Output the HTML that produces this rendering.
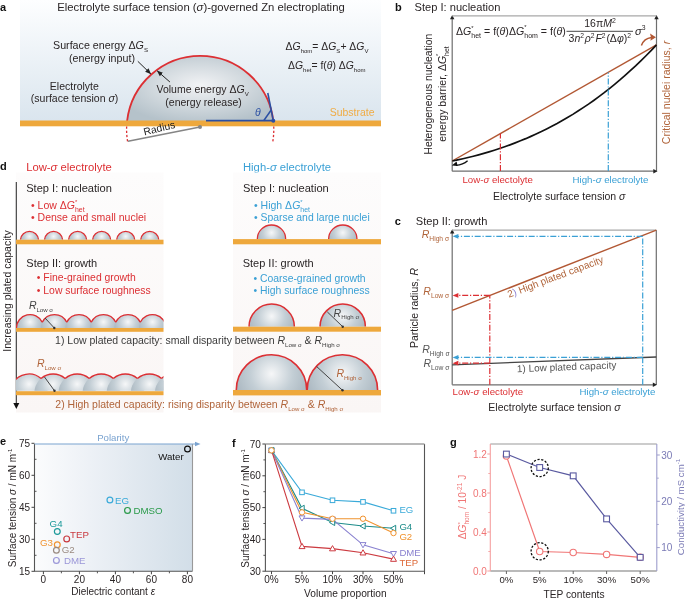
<!DOCTYPE html><html><head><meta charset="utf-8"><style>
html,body{margin:0;padding:0;background:#fff;width:685px;height:599px;overflow:hidden}
svg{display:block;will-change:transform}
text{font-family:"Liberation Sans",sans-serif}
</style></head><body>
<svg width="685" height="599" viewBox="0 0 685 599">
<defs>
<linearGradient id="ga" x1="0" y1="0" x2="0" y2="1"><stop offset="0" stop-color="#fdfeff"/><stop offset="1" stop-color="#dae5ee"/></linearGradient>
<radialGradient id="drop" cx="0.5" cy="0.45" r="0.6"><stop offset="0" stop-color="#f2f3f5"/><stop offset="1" stop-color="#b5c2ca"/></radialGradient>
<radialGradient id="nuc" cx="0.5" cy="0.27" r="0.55"><stop offset="0" stop-color="#f6f7f8"/><stop offset="0.55" stop-color="#c3ced5"/><stop offset="1" stop-color="#aab7c0"/></radialGradient>
<linearGradient id="ge" x1="0" y1="0" x2="1" y2="0"><stop offset="0" stop-color="#fbfcfd"/><stop offset="0.35" stop-color="#edf1f6"/><stop offset="1" stop-color="#d2dee8"/></linearGradient>
<linearGradient id="gd" x1="0" y1="0" x2="0" y2="1"><stop offset="0" stop-color="#fdfcfc"/><stop offset="1" stop-color="#faf6f5"/></linearGradient>
<marker id="ah" viewBox="0 0 10 10" refX="9" refY="5" markerWidth="6" markerHeight="6" orient="auto-start-reverse"><path d="M0,1 L10,5 L0,9 z" fill="#222"/></marker>
</defs>

<text x="0" y="10.5" font-size="11" font-weight="bold" fill="#111">a</text>
<rect x="20" y="0" width="361" height="121" fill="url(#ga)"/>
<text x="57.2" y="10.5" font-size="11.3" fill="#2a2526" text-anchor="start" ><tspan >Electrolyte surface tension (</tspan><tspan font-style="italic" >σ</tspan><tspan >)-governed Zn electroplating</tspan></text>
<path d="M127.0924764473587,121 A73.6,73.6 0 0 1 273.30752355264127,121 Z" fill="url(#drop)"/>
<path d="M127.0924764473587,121 A73.6,73.6 0 0 1 273.30752355264127,121" fill="none" stroke="#dc2f33" stroke-width="1.8"/>
<rect x="20" y="120.5" width="361" height="5.8" fill="#eea83c"/>
<path d="M126.66,126.5 A73.6,73.6 0 0 0 127.67,142" fill="none" stroke="#dc2f33" stroke-width="1.3" stroke-dasharray="2.2,2"/>
<path d="M273.74,126.5 A73.6,73.6 0 0 1 272.73,142" fill="none" stroke="#dc2f33" stroke-width="1.3" stroke-dasharray="2.2,2"/>
<path d="M128,141.3 L200,127" stroke="#858585" stroke-width="1.6" fill="none" />
<circle cx="200" cy="127" r="2" fill="#858585"/>
<text x="0" y="0" font-size="10.3" fill="#222" text-anchor="start" transform="translate(144.6,135.5) rotate(-14)" ><tspan >Radius</tspan></text>
<path d="M206,120.7 L273.3,120.7" stroke="#2a4fa3" stroke-width="1.8" fill="none" />
<path d="M273.3,120.7 L267.8,93" stroke="#2a4fa3" stroke-width="1.6" fill="none" />
<path d="M263.7,120.7 L271,110.2" stroke="#2a4fa3" stroke-width="1.5" fill="none" />
<circle cx="273.3" cy="120.7" r="2" fill="#2a4fa3"/>
<text x="255" y="116.3" font-size="10.5" fill="#2a4fa3" text-anchor="start" ><tspan font-style="italic" >θ</tspan></text>
<text x="53" y="49.3" font-size="10.7" fill="#2a2526" text-anchor="start" ><tspan >Surface energy </tspan><tspan >Δ</tspan><tspan font-style="italic" >G</tspan><tspan dy="2.67" font-size="6.21" >S</tspan></text>
<text x="69" y="61.7" font-size="10.7" fill="#2a2526" text-anchor="start" ><tspan >(energy input)</tspan></text>
<text x="49.8" y="89.6" font-size="10.5" fill="#2a2526" text-anchor="start" ><tspan >Electrolyte</tspan></text>
<text x="30.8" y="101.8" font-size="10.5" fill="#2a2526" text-anchor="start" ><tspan >(surface tension </tspan><tspan font-style="italic" >σ</tspan><tspan >)</tspan></text>
<text x="156.5" y="93.3" font-size="10.5" fill="#2a2526" text-anchor="start" ><tspan >Volume energy </tspan><tspan >Δ</tspan><tspan font-style="italic" >G</tspan><tspan dy="2.62" font-size="6.09" >V</tspan></text>
<text x="165.3" y="105.7" font-size="10.5" fill="#2a2526" text-anchor="start" ><tspan >(energy release)</tspan></text>
<path d="M137.8,61.3 L150.7,73.8" stroke="#222" stroke-width="1" marker-end="url(#ah)"/>
<path d="M169.9,82 L157.3,71" stroke="#222" stroke-width="1" marker-end="url(#ah)"/>
<text x="285.6" y="50.4" font-size="10.4" fill="#2a2526" text-anchor="start" ><tspan >Δ</tspan><tspan font-style="italic" >G</tspan><tspan dy="2.60" font-size="6.03" >hom</tspan><tspan dy="-2.60" >= </tspan><tspan >Δ</tspan><tspan font-style="italic" >G</tspan><tspan dy="2.60" font-size="6.03" >S</tspan><tspan dy="-2.60" >+ </tspan><tspan >Δ</tspan><tspan font-style="italic" >G</tspan><tspan dy="2.60" font-size="6.03" >V</tspan></text>
<text x="288" y="69.4" font-size="10.4" fill="#2a2526" text-anchor="start" ><tspan >Δ</tspan><tspan font-style="italic" >G</tspan><tspan dy="2.60" font-size="6.03" >het</tspan><tspan dy="-2.60" >= f(</tspan><tspan font-style="italic" >θ</tspan><tspan >) </tspan><tspan >Δ</tspan><tspan font-style="italic" >G</tspan><tspan dy="2.60" font-size="6.03" >hom</tspan></text>
<text x="329.8" y="116.4" font-size="10.45" fill="#f0ac45" text-anchor="start" ><tspan >Substrate</tspan></text>
<text x="395" y="10.5" font-size="11" font-weight="bold" fill="#111">b</text>
<text x="414.6" y="10.6" font-size="11.1" fill="#2a2526" text-anchor="start" ><tspan >Step I: nucleation</tspan></text>
<path d="M452.2,171.2 L452.2,18" stroke="#6e6e6e" stroke-width="1.2" fill="none" />
<path d="M452.2,15 l-2.2,4.2 h4.4 z" fill="#222"/>
<path d="M656.5,171.2 L656.5,18" stroke="#6e6e6e" stroke-width="1.2" fill="none" />
<path d="M656.5,15 l-2.2,4.2 h4.4 z" fill="#222"/>
<path d="M452.2,171.2 L654,171.2" stroke="#6e6e6e" stroke-width="1.2" fill="none" />
<path d="M657.5,171.2 l-4.2,-2.2 v4.4 z" fill="#222"/>
<path d="M452.2,15.8 L656.5,15.8" stroke="#a8a8a8" stroke-width="1.3" fill="none" />
<path d="M452.2,161 L656.5,44.9" stroke="#b25834" stroke-width="1.4" fill="none" />
<path d="M452.4,161.02 L457.6,159.91 L462.9,158.74 L468.1,157.51 L473.3,156.20 L478.6,154.82 L483.8,153.36 L489.0,151.83 L494.3,150.21 L499.5,148.51 L504.7,146.73 L510.0,144.85 L515.2,142.88 L520.4,140.82 L525.7,138.66 L530.9,136.39 L536.1,134.03 L541.4,131.56 L546.6,128.98 L551.8,126.29 L557.1,123.49 L562.3,120.56 L567.5,117.52 L572.8,114.36 L578.0,111.07 L583.2,107.66 L588.5,104.12 L593.7,100.44 L598.9,96.62 L604.2,92.67 L609.4,88.58 L614.6,84.34 L619.9,79.96 L625.1,75.43 L630.3,70.74 L635.6,65.90 L640.8,60.91 L646.0,55.75 L651.3,50.43 L656.5,44.95" stroke="#111" stroke-width="1.7" fill="none" />
<path d="M500.4,171 L500.4,133.5" stroke="#dc2f33" stroke-width="1.2" fill="none" stroke-dasharray="6,1.8,1.2,1.8"/>
<path d="M608.3,171 L608.3,72.6" stroke="#3aa0d5" stroke-width="1.2" fill="none" stroke-dasharray="6,1.8,1.2,1.8"/>
<path d="M467.6,160.7 Q463,164.8 456,165.3" stroke="#111" stroke-width="1.3" fill="none" />
<path d="M451.8,165.6 L456.6,161.6 L457.6,165.9 z" fill="#111"/>
<path d="M641.4,45.5 Q644,38.5 651.5,37.6" stroke="#b25834" stroke-width="1.5" fill="none" />
<path d="M656,37.2 l-6,-3.6 l1,3.8 l-0.6,3.4 z" fill="#b25834"/>
<text x="462.4" y="183.4" font-size="9.7" fill="#dc2f33" text-anchor="start" ><tspan >Low-</tspan><tspan font-style="italic" >σ</tspan><tspan > electolyte</tspan></text>
<text x="572.5" y="183.4" font-size="9.7" fill="#3aa0d5" text-anchor="start" ><tspan >High-</tspan><tspan font-style="italic" >σ</tspan><tspan > electrolyte</tspan></text>
<text x="493" y="199.7" font-size="10.5" fill="#2a2526" text-anchor="start" ><tspan >Electrolyte surface tension </tspan><tspan font-style="italic" >σ</tspan></text>
<text x="456" y="34.8" font-size="10.6" fill="#2a2526" text-anchor="start" ><tspan >Δ</tspan><tspan font-style="italic" >G</tspan><tspan dy="-5.30" font-size="5.83" >*</tspan><tspan dy="8.48" font-size="7.00" dx="-2.27">het</tspan><tspan dy="-3.18" > = f(</tspan><tspan font-style="italic" >θ</tspan><tspan >)</tspan><tspan >Δ</tspan><tspan font-style="italic" >G</tspan><tspan dy="-5.30" font-size="5.83" >*</tspan><tspan dy="8.48" font-size="7.00" dx="-2.27">hom</tspan><tspan dy="-3.18" > = f(</tspan><tspan font-style="italic" >θ</tspan><tspan >)</tspan></text>
<text x="600" y="27.4" font-size="10.5" fill="#2a2526" text-anchor="middle" ><tspan >16π</tspan><tspan font-style="italic" >M</tspan><tspan dy="-4.41" font-size="6.93" >2</tspan></text>
<path d="M566.5,31.3 L633,31.3" stroke="#333" stroke-width="0.9" fill="none" />
<text x="599.8" y="42" font-size="10.5" fill="#2a2526" text-anchor="middle" ><tspan >3</tspan><tspan font-style="italic" >n</tspan><tspan dy="-4.20" font-size="6.72" >2</tspan><tspan dy="4.20" font-style="italic" dx="0.8">ρ</tspan><tspan dy="-4.20" font-size="6.72" >2</tspan><tspan dy="4.20" font-style="italic" dx="0.8">F</tspan><tspan dy="-4.20" font-size="6.72" >2</tspan><tspan dy="4.20" dx="0.8">(Δ</tspan><tspan font-style="italic" >φ</tspan><tspan >)</tspan><tspan dy="-4.20" font-size="6.72" >2</tspan></text>
<text x="635" y="35" font-size="11" fill="#2a2526" text-anchor="start" ><tspan font-style="italic" >σ</tspan><tspan dy="-4.95" font-size="6.82" >3</tspan></text>
<text x="0" y="0" font-size="10.35" fill="#2a2526" text-anchor="middle" transform="translate(432.3,94.2) rotate(-90)" ><tspan >Heterogeneous nucleation</tspan></text>
<text x="0" y="0" font-size="10.5" fill="#2a2526" text-anchor="middle" transform="translate(445.5,94) rotate(-90)" ><tspan >energy barrier, </tspan><tspan >Δ</tspan><tspan font-style="italic" >G</tspan><tspan dy="-5.25" font-size="5.78" >*</tspan><tspan dy="8.40" font-size="6.93" dx="-2.25">het</tspan></text>
<text x="0" y="0" font-size="10.5" fill="#b0643a" text-anchor="middle" transform="translate(670,92.5) rotate(-90)" ><tspan >Critical nuclei radius, </tspan><tspan font-style="italic" >r</tspan></text>
<text x="0" y="170.4" font-size="11" font-weight="bold" fill="#111">d</text>
<text x="26.2" y="171" font-size="11.25" fill="#dc2f33" text-anchor="start" ><tspan >Low-</tspan><tspan font-style="italic" >σ</tspan><tspan > electrolyte</tspan></text>
<text x="243" y="170.8" font-size="11.25" fill="#3aa0d5" text-anchor="start" ><tspan >High-</tspan><tspan font-style="italic" >σ</tspan><tspan > electrolyte</tspan></text>
<rect x="16" y="172.5" width="147.5" height="240" fill="url(#gd)"/>
<rect x="233" y="172.5" width="148" height="240" fill="url(#gd)"/>
<path d="M16.3,182 L16.3,404" stroke="#333" stroke-width="1.1" fill="none" />
<path d="M16.3,409 l-3,-6 h6 z" fill="#111"/>
<text x="0" y="0" font-size="10.5" fill="#2a2526" text-anchor="middle" transform="translate(11,291) rotate(-90)" ><tspan >Increasing plated capacity</tspan></text>
<text x="26.2" y="192.1" font-size="11.1" fill="#2a2526" text-anchor="start" ><tspan >Step I: nucleation</tspan></text>
<text x="31" y="208.9" font-size="10.5" fill="#dc2f33" text-anchor="start" ><tspan >• Low </tspan><tspan >Δ</tspan><tspan font-style="italic" >G</tspan><tspan dy="-5.25" font-size="5.78" >*</tspan><tspan dy="8.40" font-size="6.93" dx="-2.25">het</tspan></text>
<text x="31" y="220.7" font-size="10.5" fill="#dc2f33" text-anchor="start" ><tspan >• Dense and small nuclei</tspan></text>
<clipPath id="c1"><rect x="16" y="0" width="147.5" height="239.7"/></clipPath>
<g clip-path="url(#c1)"><circle cx="29.5" cy="240.6" r="9.1" fill="url(#nuc)"/><circle cx="53.55" cy="240.6" r="9.1" fill="url(#nuc)"/><circle cx="77.6" cy="240.6" r="9.1" fill="url(#nuc)"/><circle cx="101.65" cy="240.6" r="9.1" fill="url(#nuc)"/><circle cx="125.7" cy="240.6" r="9.1" fill="url(#nuc)"/><circle cx="149.75" cy="240.6" r="9.1" fill="url(#nuc)"/></g>
<g clip-path="url(#c1)"><path d="M20.44,239.70 A9.1,9.1 0 0 1 38.56,239.70" fill="none" stroke="#dc2f33" stroke-width="1.3"/></g>
<g clip-path="url(#c1)"><path d="M44.49,239.70 A9.1,9.1 0 0 1 62.61,239.70" fill="none" stroke="#dc2f33" stroke-width="1.3"/></g>
<g clip-path="url(#c1)"><path d="M68.54,239.70 A9.1,9.1 0 0 1 86.66,239.70" fill="none" stroke="#dc2f33" stroke-width="1.3"/></g>
<g clip-path="url(#c1)"><path d="M92.59,239.70 A9.1,9.1 0 0 1 110.71,239.70" fill="none" stroke="#dc2f33" stroke-width="1.3"/></g>
<g clip-path="url(#c1)"><path d="M116.64,239.70 A9.1,9.1 0 0 1 134.76,239.70" fill="none" stroke="#dc2f33" stroke-width="1.3"/></g>
<g clip-path="url(#c1)"><path d="M140.69,239.70 A9.1,9.1 0 0 1 158.81,239.70" fill="none" stroke="#dc2f33" stroke-width="1.3"/></g>
<rect x="16" y="239.7" width="147.5" height="4.6" fill="#eea83c"/>
<text x="26.3" y="266.5" font-size="11" fill="#2a2526" text-anchor="start" ><tspan >Step II: growth</tspan></text>
<text x="36.8" y="281.3" font-size="10.4" fill="#dc2f33" text-anchor="start" ><tspan >• Fine-grained growth</tspan></text>
<text x="36.8" y="293.7" font-size="10.4" fill="#dc2f33" text-anchor="start" ><tspan >• Low surface roughness</tspan></text>
<clipPath id="c2"><rect x="16" y="0" width="147.5" height="328.2"/></clipPath>
<g clip-path="url(#c2)"><circle cx="30.0" cy="328.2" r="13.6" fill="url(#nuc)"/><circle cx="54.5" cy="328.2" r="13.6" fill="url(#nuc)"/><circle cx="79.0" cy="328.2" r="13.6" fill="url(#nuc)"/><circle cx="103.5" cy="328.2" r="13.6" fill="url(#nuc)"/><circle cx="128.0" cy="328.2" r="13.6" fill="url(#nuc)"/><circle cx="152.5" cy="328.2" r="13.6" fill="url(#nuc)"/></g>
<g clip-path="url(#c2)"><path d="M16.40,328.20 A13.6,13.6 0 0 1 42.25,322.29" fill="none" stroke="#dc2f33" stroke-width="1.3"/></g>
<g clip-path="url(#c2)"><path d="M42.25,322.29 A13.6,13.6 0 0 1 66.75,322.29" fill="none" stroke="#dc2f33" stroke-width="1.3"/></g>
<g clip-path="url(#c2)"><path d="M66.75,322.29 A13.6,13.6 0 0 1 91.25,322.29" fill="none" stroke="#dc2f33" stroke-width="1.3"/></g>
<g clip-path="url(#c2)"><path d="M91.25,322.29 A13.6,13.6 0 0 1 115.75,322.29" fill="none" stroke="#dc2f33" stroke-width="1.3"/></g>
<g clip-path="url(#c2)"><path d="M115.75,322.29 A13.6,13.6 0 0 1 140.25,322.29" fill="none" stroke="#dc2f33" stroke-width="1.3"/></g>
<g clip-path="url(#c2)"><path d="M140.25,322.29 A13.6,13.6 0 0 1 166.10,328.20" fill="none" stroke="#dc2f33" stroke-width="1.3"/></g>
<rect x="16" y="328" width="147.5" height="3.8" fill="#eea83c"/>
<path d="M45,318 L54.3,328" stroke="#333" stroke-width="0.9" fill="none" />
<circle cx="54.3" cy="328" r="1.2" fill="#333"/>
<text x="28.9" y="309.3" font-size="10.5" fill="#444" text-anchor="start" ><tspan font-style="italic" >R</tspan><tspan dy="2.62" font-size="6.09" >Low σ</tspan></text>
<clipPath id="c3"><rect x="16" y="0" width="147.5" height="390.8"/></clipPath>
<g clip-path="url(#c3)"><circle cx="29.0" cy="392.7" r="18.7" fill="url(#nuc)"/><circle cx="53.1" cy="392.7" r="18.7" fill="url(#nuc)"/><circle cx="77.2" cy="392.7" r="18.7" fill="url(#nuc)"/><circle cx="101.30000000000001" cy="392.7" r="18.7" fill="url(#nuc)"/><circle cx="125.4" cy="392.7" r="18.7" fill="url(#nuc)"/><circle cx="149.5" cy="392.7" r="18.7" fill="url(#nuc)"/><circle cx="173.60000000000002" cy="392.7" r="18.7" fill="url(#nuc)"/></g>
<g clip-path="url(#c3)"><path d="M10.40,390.80 A18.7,18.7 0 0 1 41.05,378.40" fill="none" stroke="#dc2f33" stroke-width="1.3"/></g>
<g clip-path="url(#c3)"><path d="M41.05,378.40 A18.7,18.7 0 0 1 65.15,378.40" fill="none" stroke="#dc2f33" stroke-width="1.3"/></g>
<g clip-path="url(#c3)"><path d="M65.15,378.40 A18.7,18.7 0 0 1 89.25,378.40" fill="none" stroke="#dc2f33" stroke-width="1.3"/></g>
<g clip-path="url(#c3)"><path d="M89.25,378.40 A18.7,18.7 0 0 1 113.35,378.40" fill="none" stroke="#dc2f33" stroke-width="1.3"/></g>
<g clip-path="url(#c3)"><path d="M113.35,378.40 A18.7,18.7 0 0 1 137.45,378.40" fill="none" stroke="#dc2f33" stroke-width="1.3"/></g>
<g clip-path="url(#c3)"><path d="M137.45,378.40 A18.7,18.7 0 0 1 161.55,378.40" fill="none" stroke="#dc2f33" stroke-width="1.3"/></g>
<g clip-path="url(#c3)"><path d="M161.55,378.40 A18.7,18.7 0 0 1 192.20,390.80" fill="none" stroke="#dc2f33" stroke-width="1.3"/></g>
<rect x="16" y="391.2" width="147.5" height="4" fill="#eea83c"/>
<path d="M44.5,377 L54.5,390.8" stroke="#333" stroke-width="0.9" fill="none" />
<circle cx="54.5" cy="390.8" r="1.2" fill="#333"/>
<text x="37" y="367.1" font-size="10.5" fill="#b0643a" text-anchor="start" ><tspan font-style="italic" >R</tspan><tspan dy="2.62" font-size="6.09" >Low σ</tspan></text>
<text x="55.1" y="343.7" font-size="10.5" fill="#3a3a3a" text-anchor="start" ><tspan >1) Low plated capacity: small disparity between </tspan><tspan font-style="italic" >R</tspan><tspan dy="2.94" font-size="6.09" >Low σ</tspan><tspan dy="-2.94" > &amp; </tspan><tspan font-style="italic" >R</tspan><tspan dy="2.94" font-size="6.09" >High σ</tspan></text>
<text x="55.3" y="407.8" font-size="10.5" fill="#b0643a" text-anchor="start" ><tspan >2) High plated capacity: rising disparity between </tspan><tspan font-style="italic" >R</tspan><tspan dy="2.94" font-size="6.09" >Low σ</tspan><tspan dy="-2.94" > &amp; </tspan><tspan font-style="italic" >R</tspan><tspan dy="2.94" font-size="6.09" >High σ</tspan></text>
<text x="243" y="192.1" font-size="11.1" fill="#2a2526" text-anchor="start" ><tspan >Step I: nucleation</tspan></text>
<text x="254" y="209.3" font-size="10.5" fill="#3aa0d5" text-anchor="start" ><tspan >• High </tspan><tspan >Δ</tspan><tspan font-style="italic" >G</tspan><tspan dy="-5.25" font-size="5.78" >*</tspan><tspan dy="8.40" font-size="6.93" dx="-2.25">het</tspan></text>
<text x="254" y="221.1" font-size="10.4" fill="#3aa0d5" text-anchor="start" ><tspan >• Sparse and large nuclei</tspan></text>
<clipPath id="c4"><rect x="233" y="0" width="148" height="239.2"/></clipPath>
<g clip-path="url(#c4)"><circle cx="271.5" cy="239.2" r="14.2" fill="url(#nuc)"/></g>
<g clip-path="url(#c4)"><path d="M257.30,239.20 A14.2,14.2 0 0 1 285.70,239.20" fill="none" stroke="#dc2f33" stroke-width="1.3"/></g>
<clipPath id="c5"><rect x="233" y="0" width="148" height="239.2"/></clipPath>
<g clip-path="url(#c5)"><circle cx="342.8" cy="239.2" r="14.2" fill="url(#nuc)"/></g>
<g clip-path="url(#c5)"><path d="M328.60,239.20 A14.2,14.2 0 0 1 357.00,239.20" fill="none" stroke="#dc2f33" stroke-width="1.3"/></g>
<rect x="233" y="239.1" width="148" height="5.2" fill="#eea83c"/>
<text x="242.7" y="266.5" font-size="11" fill="#2a2526" text-anchor="start" ><tspan >Step II: growth</tspan></text>
<text x="253.4" y="281.8" font-size="10.4" fill="#3aa0d5" text-anchor="start" ><tspan >• Coarse-grained growth</tspan></text>
<text x="253.4" y="294.2" font-size="10.4" fill="#3aa0d5" text-anchor="start" ><tspan >• High surface roughness</tspan></text>
<clipPath id="c6"><rect x="233" y="0" width="148" height="326.7"/></clipPath>
<g clip-path="url(#c6)"><circle cx="271.7" cy="326.7" r="22.7" fill="url(#nuc)"/></g>
<g clip-path="url(#c6)"><path d="M249.00,326.70 A22.7,22.7 0 0 1 294.40,326.70" fill="none" stroke="#dc2f33" stroke-width="1.5"/></g>
<clipPath id="c7"><rect x="233" y="0" width="148" height="326.7"/></clipPath>
<g clip-path="url(#c7)"><circle cx="342.7" cy="326.7" r="22.7" fill="url(#nuc)"/></g>
<g clip-path="url(#c7)"><path d="M320.00,326.70 A22.7,22.7 0 0 1 365.40,326.70" fill="none" stroke="#dc2f33" stroke-width="1.5"/></g>
<rect x="233" y="326.7" width="148" height="5" fill="#eea83c"/>
<path d="M327.3,311.9 L342.7,326.7" stroke="#333" stroke-width="0.9" fill="none" />
<circle cx="342.7" cy="326.7" r="1.2" fill="#333"/>
<text x="333.6" y="316.7" font-size="10.5" fill="#444" text-anchor="start" ><tspan font-style="italic" >R</tspan><tspan dy="2.62" font-size="6.09" >High σ</tspan></text>
<clipPath id="c8"><rect x="233" y="0" width="148" height="390"/></clipPath>
<g clip-path="url(#c8)"><circle cx="271.5" cy="390" r="35.2" fill="url(#nuc)"/><circle cx="342.4" cy="390" r="35.2" fill="url(#nuc)"/></g>
<g clip-path="url(#c8)"><path d="M236.30,390.00 A35.2,35.2 0 0 1 306.70,390.00" fill="none" stroke="#dc2f33" stroke-width="1.6"/></g>
<g clip-path="url(#c8)"><path d="M307.20,390.00 A35.2,35.2 0 0 1 377.60,390.00" fill="none" stroke="#dc2f33" stroke-width="1.6"/></g>
<rect x="233" y="390" width="148" height="5.4" fill="#eea83c"/>
<path d="M316.5,366.4 L342.5,390.3" stroke="#333" stroke-width="0.9" fill="none" />
<circle cx="342.5" cy="390.3" r="1.2" fill="#333"/>
<text x="336.4" y="377.2" font-size="10.5" fill="#b0643a" text-anchor="start" ><tspan font-style="italic" >R</tspan><tspan dy="2.62" font-size="6.09" >High σ</tspan></text>
<text x="394.8" y="225" font-size="11" font-weight="bold" fill="#111">c</text>
<text x="415.8" y="225" font-size="11.1" fill="#2a2526" text-anchor="start" ><tspan >Step II: growth</tspan></text>
<path d="M452.2,384.8 L452.2,233" stroke="#6e6e6e" stroke-width="1.2" fill="none" />
<path d="M452.2,229.2 l-2.2,4.2 h4.4 z" fill="#222"/>
<path d="M656.3,384.8 L656.3,230" stroke="#6e6e6e" stroke-width="1.2" fill="none" />
<path d="M452.2,384.8 L653,384.8" stroke="#6e6e6e" stroke-width="1.2" fill="none" />
<path d="M657,384.8 l-4.2,-2.2 v4.4 z" fill="#222"/>
<path d="M452.2,230.1 L656.3,230.1" stroke="#a8a8a8" stroke-width="1.3" fill="none" />
<path d="M452.2,310.3 L656.3,230.1" stroke="#b25834" stroke-width="1.4" fill="none" />
<path d="M452.2,364.8 L656.3,357" stroke="#444" stroke-width="1.3" fill="none" />
<path d="M642.7,384.8 L642.7,236.3" stroke="#3aa0d5" stroke-width="1.2" fill="none" stroke-dasharray="6,1.8,1.2,1.8"/>
<path d="M642.7,236.3 L458,236.3" stroke="#3aa0d5" stroke-width="1.2" fill="none" stroke-dasharray="6,1.8,1.2,1.8"/>
<path d="M452.6,236.3 l5.8,-2.4 v4.8 z" fill="#3aa0d5"/>
<path d="M489.8,384.8 L489.8,295.4" stroke="#dc2f33" stroke-width="1.2" fill="none" stroke-dasharray="6,1.8,1.2,1.8"/>
<path d="M489.8,295.4 L458,295.4" stroke="#dc2f33" stroke-width="1.2" fill="none" stroke-dasharray="6,1.8,1.2,1.8"/>
<path d="M452.6,295.4 l5.8,-2.4 v4.8 z" fill="#dc2f33"/>
<path d="M642.7,357.4 L458,357.4" stroke="#3aa0d5" stroke-width="1.2" fill="none" stroke-dasharray="6,1.8,1.2,1.8"/>
<path d="M452.6,357.4 l5.8,-2.4 v4.8 z" fill="#3aa0d5"/>
<path d="M489.8,363.2 L458,363.2" stroke="#dc2f33" stroke-width="1.2" fill="none" stroke-dasharray="6,1.8,1.2,1.8"/>
<path d="M452.6,363.2 l5.8,-2.4 v4.8 z" fill="#dc2f33"/>
<text x="421.7" y="237.8" font-size="10.5" fill="#b0643a" text-anchor="start" ><tspan font-style="italic" >R</tspan><tspan dy="2.94" font-size="6.72" >High σ</tspan></text>
<text x="423.3" y="294.8" font-size="10.5" fill="#b0643a" text-anchor="start" ><tspan font-style="italic" >R</tspan><tspan dy="2.94" font-size="6.72" >Low σ</tspan></text>
<text x="422.2" y="352.7" font-size="10.5" fill="#555" text-anchor="start" ><tspan font-style="italic" >R</tspan><tspan dy="2.94" font-size="6.72" >High σ</tspan></text>
<text x="423.4" y="366.7" font-size="10.5" fill="#555" text-anchor="start" ><tspan font-style="italic" >R</tspan><tspan dy="2.94" font-size="6.72" >Low σ</tspan></text>
<text x="0" y="0" font-size="10" fill="#b0643a" text-anchor="start" transform="translate(509,297.8) rotate(-20.5)" ><tspan >2</tspan><tspan fill="#8a7fcf">)</tspan><tspan > High plated capacity</tspan></text>
<text x="0" y="0" font-size="10" fill="#555" text-anchor="start" transform="translate(517,372.2) rotate(-2.2)" ><tspan >1) Low plated capacity</tspan></text>
<text x="452.6" y="395" font-size="9.7" fill="#dc2f33" text-anchor="start" ><tspan >Low-</tspan><tspan font-style="italic" >σ</tspan><tspan > electolyte</tspan></text>
<text x="655.4" y="395.3" font-size="9.7" fill="#3aa0d5" text-anchor="end" ><tspan >High-</tspan><tspan font-style="italic" >σ</tspan><tspan > electrolyte</tspan></text>
<text x="488.3" y="410.5" font-size="10.5" fill="#2a2526" text-anchor="start" ><tspan >Electrolyte surface tension </tspan><tspan font-style="italic" >σ</tspan></text>
<text x="0" y="0" font-size="10.5" fill="#2a2526" text-anchor="middle" transform="translate(418,308) rotate(-90)" ><tspan >Particle radius, </tspan><tspan font-style="italic" >R</tspan></text>
<text x="0" y="445.4" font-size="11" font-weight="bold" fill="#111">e</text>
<rect x="34.5" y="444" width="158.0" height="127.29999999999995" fill="url(#ge)"/>
<path d="M34.5,444 L34.5,571.3 L192.5,571.3" stroke="#555" stroke-width="1.1" fill="none" />
<path d="M192.5,571.3 L192.5,444" stroke="#999" stroke-width="1.1" fill="none" />
<path d="M34.5,444 L195,444" stroke="#7aa3d0" stroke-width="1.2" fill="none" />
<path d="M200.5,444 l-5.5,-2.3 v4.6 z" fill="#7aa3d0"/>
<text x="97.2" y="441.2" font-size="9.6" fill="#7aa3d0" text-anchor="start" ><tspan >Polarity</tspan></text>
<path d="M31.5,571.30 L34.5,571.30" stroke="#444" stroke-width="1" fill="none" />
<text x="30.0" y="574.8" font-size="10" fill="#2a2526" text-anchor="end" ><tspan >15</tspan></text>
<path d="M31.5,539.30 L34.5,539.30" stroke="#444" stroke-width="1" fill="none" />
<text x="30.0" y="542.8" font-size="10" fill="#2a2526" text-anchor="end" ><tspan >30</tspan></text>
<path d="M31.5,507.30 L34.5,507.30" stroke="#444" stroke-width="1" fill="none" />
<text x="30.0" y="510.79999999999995" font-size="10" fill="#2a2526" text-anchor="end" ><tspan >45</tspan></text>
<path d="M31.5,475.30 L34.5,475.30" stroke="#444" stroke-width="1" fill="none" />
<text x="30.0" y="478.79999999999995" font-size="10" fill="#2a2526" text-anchor="end" ><tspan >60</tspan></text>
<path d="M31.5,443.30 L34.5,443.30" stroke="#444" stroke-width="1" fill="none" />
<text x="30.0" y="446.79999999999995" font-size="10" fill="#2a2526" text-anchor="end" ><tspan >75</tspan></text>
<path d="M34.5,555.30 L36.5,555.30" stroke="#444" stroke-width="0.9" fill="none" />
<path d="M34.5,523.30 L36.5,523.30" stroke="#444" stroke-width="0.9" fill="none" />
<path d="M34.5,491.30 L36.5,491.30" stroke="#444" stroke-width="0.9" fill="none" />
<path d="M34.5,459.30 L36.5,459.30" stroke="#444" stroke-width="0.9" fill="none" />
<path d="M43.40,571.3 L43.40,574.3" stroke="#444" stroke-width="1" fill="none" />
<text x="43.4" y="582.7" font-size="10" fill="#2a2526" text-anchor="middle" ><tspan >0</tspan></text>
<path d="M79.40,571.3 L79.40,574.3" stroke="#444" stroke-width="1" fill="none" />
<text x="79.4" y="582.7" font-size="10" fill="#2a2526" text-anchor="middle" ><tspan >20</tspan></text>
<path d="M115.40,571.3 L115.40,574.3" stroke="#444" stroke-width="1" fill="none" />
<text x="115.4" y="582.7" font-size="10" fill="#2a2526" text-anchor="middle" ><tspan >40</tspan></text>
<path d="M151.40,571.3 L151.40,574.3" stroke="#444" stroke-width="1" fill="none" />
<text x="151.4" y="582.7" font-size="10" fill="#2a2526" text-anchor="middle" ><tspan >60</tspan></text>
<path d="M187.40,571.3 L187.40,574.3" stroke="#444" stroke-width="1" fill="none" />
<text x="187.4" y="582.7" font-size="10" fill="#2a2526" text-anchor="middle" ><tspan >80</tspan></text>
<path d="M61.40,571.3 L61.40,573.3" stroke="#444" stroke-width="0.9" fill="none" />
<path d="M97.40,571.3 L97.40,573.3" stroke="#444" stroke-width="0.9" fill="none" />
<path d="M133.40,571.3 L133.40,573.3" stroke="#444" stroke-width="0.9" fill="none" />
<path d="M169.40,571.3 L169.40,573.3" stroke="#444" stroke-width="0.9" fill="none" />
<text x="71.2" y="595" font-size="10" fill="#2a2526" text-anchor="start" ><tspan >Dielectric contant </tspan><tspan font-style="italic" >ε</tspan></text>
<text x="0" y="0" font-size="10" fill="#2a2526" text-anchor="middle" transform="translate(16.2,508) rotate(-90)" ><tspan >Surface tension </tspan><tspan font-style="italic" >σ</tspan><tspan > / mN m</tspan><tspan dy="-3.80" font-size="5.80" >-1</tspan></text>
<circle cx="187.5" cy="449" r="2.9" fill="none" stroke="#111" stroke-width="1.2"/>
<text x="158.2" y="459.7" font-size="9.7" fill="#111" text-anchor="start" ><tspan >Water</tspan></text>
<circle cx="109.9" cy="500" r="2.9" fill="none" stroke="#3aaad9" stroke-width="1.2"/>
<text x="115" y="503.6" font-size="9.7" fill="#3aaad9" text-anchor="start" ><tspan >EG</tspan></text>
<circle cx="127.5" cy="510.4" r="2.9" fill="none" stroke="#2a9a4a" stroke-width="1.2"/>
<text x="133.4" y="514" font-size="9.7" fill="#2a9a4a" text-anchor="start" ><tspan >DMSO</tspan></text>
<circle cx="57.3" cy="531.5" r="2.9" fill="none" stroke="#1d9a9a" stroke-width="1.2"/>
<text x="49.6" y="527.2" font-size="9.7" fill="#1d9a9a" text-anchor="start" ><tspan >G4</tspan></text>
<circle cx="66.7" cy="538.9" r="2.9" fill="none" stroke="#c9393f" stroke-width="1.2"/>
<text x="70" y="538.2" font-size="9.7" fill="#c9393f" text-anchor="start" ><tspan >TEP</tspan></text>
<circle cx="57.3" cy="544.7" r="2.9" fill="none" stroke="#f0922e" stroke-width="1.2"/>
<text x="40" y="546.4" font-size="9.7" fill="#f0922e" text-anchor="start" ><tspan >G3</tspan></text>
<circle cx="56.4" cy="550.3" r="2.9" fill="none" stroke="#9a8a80" stroke-width="1.2"/>
<text x="61.7" y="553" font-size="9.7" fill="#9a8a80" text-anchor="start" ><tspan >G2</tspan></text>
<circle cx="56.4" cy="560.4" r="2.9" fill="none" stroke="#9b97d8" stroke-width="1.2"/>
<text x="64" y="564" font-size="9.7" fill="#9b97d8" text-anchor="start" ><tspan >DME</tspan></text>
<text x="232" y="447" font-size="11" font-weight="bold" fill="#111">f</text>
<path d="M265.4,444 L265.4,571.2 L424.5,571.2 L424.5,444" stroke="#555" stroke-width="1.1" fill="none" />
<path d="M265.4,444 L424.5,444" stroke="#a0a0a0" stroke-width="1.3" fill="none" />
<path d="M262.4,571.20 L265.4,571.20" stroke="#444" stroke-width="1" fill="none" />
<text x="260.9" y="574.7" font-size="10" fill="#2a2526" text-anchor="end" ><tspan >30</tspan></text>
<path d="M262.4,539.40 L265.4,539.40" stroke="#444" stroke-width="1" fill="none" />
<text x="260.9" y="542.9000000000001" font-size="10" fill="#2a2526" text-anchor="end" ><tspan >40</tspan></text>
<path d="M262.4,507.60 L265.4,507.60" stroke="#444" stroke-width="1" fill="none" />
<text x="260.9" y="511.1" font-size="10" fill="#2a2526" text-anchor="end" ><tspan >50</tspan></text>
<path d="M262.4,475.80 L265.4,475.80" stroke="#444" stroke-width="1" fill="none" />
<text x="260.9" y="479.30000000000007" font-size="10" fill="#2a2526" text-anchor="end" ><tspan >60</tspan></text>
<path d="M262.4,444.00 L265.4,444.00" stroke="#444" stroke-width="1" fill="none" />
<text x="260.9" y="447.50000000000006" font-size="10" fill="#2a2526" text-anchor="end" ><tspan >70</tspan></text>
<path d="M263.4,555.30 L265.4,555.30" stroke="#444" stroke-width="0.9" fill="none" />
<path d="M263.4,523.50 L265.4,523.50" stroke="#444" stroke-width="0.9" fill="none" />
<path d="M263.4,491.70 L265.4,491.70" stroke="#444" stroke-width="0.9" fill="none" />
<path d="M263.4,459.90 L265.4,459.90" stroke="#444" stroke-width="0.9" fill="none" />
<path d="M271.5,571.2 L271.5,574.2" stroke="#444" stroke-width="1" fill="none" />
<text x="271.5" y="582.5" font-size="10" fill="#2a2526" text-anchor="middle" ><tspan >0%</tspan></text>
<path d="M302,571.2 L302,574.2" stroke="#444" stroke-width="1" fill="none" />
<text x="302" y="582.5" font-size="10" fill="#2a2526" text-anchor="middle" ><tspan >5%</tspan></text>
<path d="M332.5,571.2 L332.5,574.2" stroke="#444" stroke-width="1" fill="none" />
<text x="332.5" y="582.5" font-size="10" fill="#2a2526" text-anchor="middle" ><tspan >10%</tspan></text>
<path d="M363,571.2 L363,574.2" stroke="#444" stroke-width="1" fill="none" />
<text x="363" y="582.5" font-size="10" fill="#2a2526" text-anchor="middle" ><tspan >30%</tspan></text>
<path d="M393.5,571.2 L393.5,574.2" stroke="#444" stroke-width="1" fill="none" />
<text x="393.5" y="582.5" font-size="10" fill="#2a2526" text-anchor="middle" ><tspan >50%</tspan></text>
<path d="M424.5,571.2 L424.5,574.2" stroke="#444" stroke-width="1" fill="none" />
<text x="304" y="596.6" font-size="10.2" fill="#2a2526" text-anchor="start" ><tspan >Volume proportion</tspan></text>
<text x="0" y="0" font-size="10" fill="#2a2526" text-anchor="middle" transform="translate(248.6,508.5) rotate(-90)" ><tspan >Surface tension </tspan><tspan font-style="italic" >σ</tspan><tspan > / mN m</tspan><tspan dy="-3.80" font-size="5.80" >-1</tspan></text>
<path d="M271.5,450.36 L302,492.34 L332.5,500.29 L363,501.88 L393.5,510.78" stroke="#3aaad9" stroke-width="1.1" fill="none" />
<path d="M271.5,450.36 L302,508.24 L332.5,522.55 L363,526.04 L393.5,528.27" stroke="#1d8c8a" stroke-width="1.1" fill="none" />
<path d="M271.5,450.36 L302,512.37 L332.5,518.73 L363,518.73 L393.5,533.04" stroke="#f0922e" stroke-width="1.1" fill="none" />
<path d="M271.5,450.36 L302,518.09 L332.5,519.37 L363,544.81 L393.5,553.71" stroke="#8a82d0" stroke-width="1.1" fill="none" />
<path d="M271.5,450.36 L302,546.40 L332.5,548.62 L363,552.76 L393.5,559.12" stroke="#cc3a40" stroke-width="1.1" fill="none" />
<path d="M271.5,453.36 L274.5,448.16 L268.5,448.16 Z" fill="#fff" stroke="#8a82d0" stroke-width="1"/>
<path d="M302,521.09 L305,515.89 L299,515.89 Z" fill="#fff" stroke="#8a82d0" stroke-width="1"/>
<path d="M332.5,522.37 L335.5,517.17 L329.5,517.17 Z" fill="#fff" stroke="#8a82d0" stroke-width="1"/>
<path d="M363,547.81 L366,542.61 L360,542.61 Z" fill="#fff" stroke="#8a82d0" stroke-width="1"/>
<path d="M393.5,556.71 L396.5,551.51 L390.5,551.51 Z" fill="#fff" stroke="#8a82d0" stroke-width="1"/>
<path d="M271.5,447.36 L274.5,452.56 L268.5,452.56 Z" fill="#fff" stroke="#cc3a40" stroke-width="1"/>
<path d="M302,543.40 L305,548.60 L299,548.60 Z" fill="#fff" stroke="#cc3a40" stroke-width="1"/>
<path d="M332.5,545.62 L335.5,550.82 L329.5,550.82 Z" fill="#fff" stroke="#cc3a40" stroke-width="1"/>
<path d="M363,549.76 L366,554.96 L360,554.96 Z" fill="#fff" stroke="#cc3a40" stroke-width="1"/>
<path d="M393.5,556.12 L396.5,561.32 L390.5,561.32 Z" fill="#fff" stroke="#cc3a40" stroke-width="1"/>
<rect x="269.2" y="448.06" width="4.6" height="4.6" fill="#fff" stroke="#3aaad9" stroke-width="1"/>
<rect x="299.7" y="490.04" width="4.6" height="4.6" fill="#fff" stroke="#3aaad9" stroke-width="1"/>
<rect x="330.2" y="497.99" width="4.6" height="4.6" fill="#fff" stroke="#3aaad9" stroke-width="1"/>
<rect x="360.7" y="499.58" width="4.6" height="4.6" fill="#fff" stroke="#3aaad9" stroke-width="1"/>
<rect x="391.2" y="508.48" width="4.6" height="4.6" fill="#fff" stroke="#3aaad9" stroke-width="1"/>
<path d="M268.5,450.36 L273.7,447.36 L273.7,453.36 Z" fill="#fff" stroke="#1d8c8a" stroke-width="1"/>
<path d="M299,508.24 L304.2,505.24 L304.2,511.24 Z" fill="#fff" stroke="#1d8c8a" stroke-width="1"/>
<path d="M329.5,522.55 L334.7,519.55 L334.7,525.55 Z" fill="#fff" stroke="#1d8c8a" stroke-width="1"/>
<path d="M360,526.04 L365.2,523.04 L365.2,529.04 Z" fill="#fff" stroke="#1d8c8a" stroke-width="1"/>
<path d="M390.5,528.27 L395.7,525.27 L395.7,531.27 Z" fill="#fff" stroke="#1d8c8a" stroke-width="1"/>
<circle cx="271.5" cy="450.36" r="2.7" fill="#fff" stroke="#f0922e" stroke-width="1"/>
<circle cx="302" cy="512.37" r="2.7" fill="#fff" stroke="#f0922e" stroke-width="1"/>
<circle cx="332.5" cy="518.73" r="2.7" fill="#fff" stroke="#f0922e" stroke-width="1"/>
<circle cx="363" cy="518.73" r="2.7" fill="#fff" stroke="#f0922e" stroke-width="1"/>
<circle cx="393.5" cy="533.04" r="2.7" fill="#fff" stroke="#f0922e" stroke-width="1"/>
<text x="399.4" y="513.2" font-size="9.6" fill="#3aaad9" text-anchor="start" ><tspan >EG</tspan></text>
<text x="399.4" y="529.8" font-size="9.6" fill="#1d8c8a" text-anchor="start" ><tspan >G4</tspan></text>
<text x="399.4" y="539.7" font-size="9.6" fill="#f0922e" text-anchor="start" ><tspan >G2</tspan></text>
<text x="399.4" y="555.9" font-size="9.6" fill="#8a82d0" text-anchor="start" ><tspan >DME</tspan></text>
<text x="399.4" y="566.1" font-size="9.6" fill="#de6a3a" text-anchor="start" ><tspan >TEP</tspan></text>
<text x="450" y="446.4" font-size="11" font-weight="bold" fill="#111">g</text>
<path d="M490.3,444 L656.8,444" stroke="#999" stroke-width="1.1" fill="none" />
<path d="M490.3,571 L656.8,571" stroke="#777" stroke-width="1.1" fill="none" />
<path d="M490.3,444 L490.3,571" stroke="#f5a0a0" stroke-width="1.1" fill="none" />
<path d="M656.8,444 L656.8,571" stroke="#9d9dcc" stroke-width="1.1" fill="none" />
<path d="M487.3,571.00 L490.3,571.00" stroke="#f5a0a0" stroke-width="1" fill="none" />
<text x="486.8" y="574.5" font-size="10" fill="#f07676" text-anchor="end" ><tspan >0.0</tspan></text>
<path d="M487.3,532.00 L490.3,532.00" stroke="#f5a0a0" stroke-width="1" fill="none" />
<text x="486.8" y="535.5" font-size="10" fill="#f07676" text-anchor="end" ><tspan >0.4</tspan></text>
<path d="M487.3,493.00 L490.3,493.00" stroke="#f5a0a0" stroke-width="1" fill="none" />
<text x="486.8" y="496.5" font-size="10" fill="#f07676" text-anchor="end" ><tspan >0.8</tspan></text>
<path d="M487.3,454.00 L490.3,454.00" stroke="#f5a0a0" stroke-width="1" fill="none" />
<text x="486.8" y="457.5" font-size="10" fill="#f07676" text-anchor="end" ><tspan >1.2</tspan></text>
<path d="M488.3,551.50 L490.3,551.50" stroke="#f5a0a0" stroke-width="0.9" fill="none" />
<path d="M488.3,512.50 L490.3,512.50" stroke="#f5a0a0" stroke-width="0.9" fill="none" />
<path d="M488.3,473.50 L490.3,473.50" stroke="#f5a0a0" stroke-width="0.9" fill="none" />
<path d="M656.8,547.60 L659.8,547.60" stroke="#9d9dcc" stroke-width="1" fill="none" />
<text x="661.3" y="551.1" font-size="10" fill="#7a7ab5" text-anchor="start" ><tspan >10</tspan></text>
<path d="M656.8,501.30 L659.8,501.30" stroke="#9d9dcc" stroke-width="1" fill="none" />
<text x="661.3" y="504.8" font-size="10" fill="#7a7ab5" text-anchor="start" ><tspan >20</tspan></text>
<path d="M656.8,455.00 L659.8,455.00" stroke="#9d9dcc" stroke-width="1" fill="none" />
<text x="661.3" y="458.5" font-size="10" fill="#7a7ab5" text-anchor="start" ><tspan >30</tspan></text>
<path d="M656.8,524.45 L658.8,524.45" stroke="#9d9dcc" stroke-width="0.9" fill="none" />
<path d="M656.8,478.15 L658.8,478.15" stroke="#9d9dcc" stroke-width="0.9" fill="none" />
<path d="M506.4,571 L506.4,574" stroke="#666" stroke-width="1" fill="none" />
<text x="506.4" y="582.8" font-size="9.6" fill="#2a2526" text-anchor="middle" ><tspan >0%</tspan></text>
<path d="M539.7,571 L539.7,574" stroke="#666" stroke-width="1" fill="none" />
<text x="539.7" y="582.8" font-size="9.6" fill="#2a2526" text-anchor="middle" ><tspan >5%</tspan></text>
<path d="M573.2,571 L573.2,574" stroke="#666" stroke-width="1" fill="none" />
<text x="573.2" y="582.8" font-size="9.6" fill="#2a2526" text-anchor="middle" ><tspan >10%</tspan></text>
<path d="M606.6,571 L606.6,574" stroke="#666" stroke-width="1" fill="none" />
<text x="606.6" y="582.8" font-size="9.6" fill="#2a2526" text-anchor="middle" ><tspan >30%</tspan></text>
<path d="M640.2,571 L640.2,574" stroke="#666" stroke-width="1" fill="none" />
<text x="640.2" y="582.8" font-size="9.6" fill="#2a2526" text-anchor="middle" ><tspan >50%</tspan></text>
<text x="543.5" y="597.5" font-size="10.2" fill="#2a2526" text-anchor="start" ><tspan >TEP contents</tspan></text>
<path d="M506.4,455.95 L539.7,551.50 L573.2,552.48 L606.6,554.42 L640.2,557.35" stroke="#f07676" stroke-width="1.2" fill="none" />
<path d="M506.4,454.07 L539.7,467.50 L573.2,475.84 L606.6,518.89 L640.2,557.32" stroke="#5a5aa0" stroke-width="1.2" fill="none" />
<circle cx="506.4" cy="455.95" r="3.2" fill="#fff" stroke="#f07676" stroke-width="1.1"/>
<circle cx="539.7" cy="551.50" r="3.2" fill="#fff" stroke="#f07676" stroke-width="1.1"/>
<circle cx="573.2" cy="552.48" r="3.2" fill="#fff" stroke="#f07676" stroke-width="1.1"/>
<circle cx="606.6" cy="554.42" r="3.2" fill="#fff" stroke="#f07676" stroke-width="1.1"/>
<circle cx="640.2" cy="557.35" r="3.2" fill="#fff" stroke="#f07676" stroke-width="1.1"/>
<rect x="503.5" y="451.17" width="5.8" height="5.8" fill="#fff" stroke="#5a5aa0" stroke-width="1.1"/>
<rect x="536.8000000000001" y="464.60" width="5.8" height="5.8" fill="#fff" stroke="#5a5aa0" stroke-width="1.1"/>
<rect x="570.3000000000001" y="472.94" width="5.8" height="5.8" fill="#fff" stroke="#5a5aa0" stroke-width="1.1"/>
<rect x="603.7" y="515.99" width="5.8" height="5.8" fill="#fff" stroke="#5a5aa0" stroke-width="1.1"/>
<rect x="637.3000000000001" y="554.42" width="5.8" height="5.8" fill="#fff" stroke="#5a5aa0" stroke-width="1.1"/>
<circle cx="539.7" cy="468" r="8.6" fill="none" stroke="#111" stroke-width="1.3" stroke-dasharray="2.2,1.6"/>
<circle cx="539.7" cy="551.3" r="8.6" fill="none" stroke="#111" stroke-width="1.3" stroke-dasharray="2.2,1.6"/>
<text x="0" y="0" font-size="10.2" fill="#f07676" text-anchor="middle" transform="translate(466.3,507) rotate(-90)" ><tspan >Δ</tspan><tspan font-style="italic" >G</tspan><tspan dy="-4.59" font-size="6.12" >*</tspan><tspan dy="7.45" font-size="6.53" dx="-2.4">hom</tspan><tspan dy="-2.86" > / 10</tspan><tspan dy="-4.08" font-size="6.53" >-21</tspan><tspan dy="4.08" > J</tspan></text>
<text x="0" y="0" font-size="9.7" fill="#7a7ab5" text-anchor="middle" transform="translate(683.5,507) rotate(-90)" ><tspan >Conductivity / mS cm</tspan><tspan dy="-3.88" font-size="6.21" >-1</tspan></text>
</svg></body></html>
